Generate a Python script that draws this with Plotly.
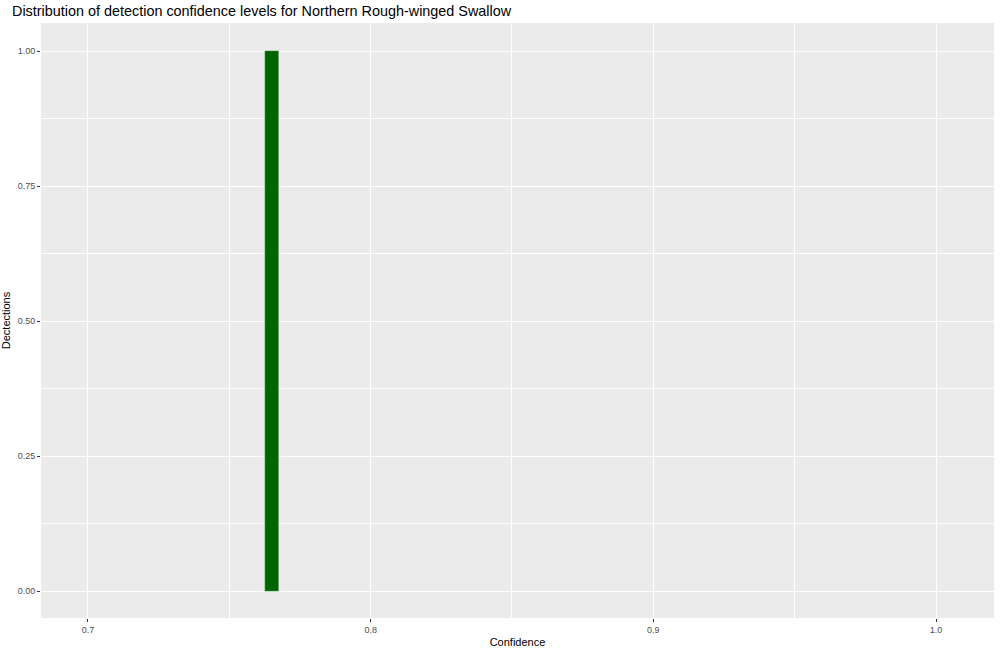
import plotly.graph_objects as go

confidence = [0.765]
detections = [1]
x_ticks = [0.7, 0.8, 0.9, 1.0]
x_tick_labels = ["0.7", "0.8", "0.9", "1.0"]
y_ticks = [0.0, 0.25, 0.5, 0.75, 1.0]
y_tick_labels = ["0.00", "0.25", "0.50", "0.75", "1.00"]

fig = go.Figure()
fig.add_trace(go.Bar(
    x=confidence, y=detections, width=0.0047,
    marker=dict(color="#006400", line=dict(color="#2f8a2f", width=0.6)),
))

font = "Liberation Sans, Arial, sans-serif"
fig.update_layout(
    width=1000, height=651,
    margin=dict(l=41, r=6, t=23, b=33),
    paper_bgcolor="white", plot_bgcolor="#EBEBEB",
    showlegend=False,
    font=dict(family=font, color="black"),
    title=dict(text="Distribution of detection confidence levels for Northern Rough-winged Swallow",
               x=12/1000, xanchor="left", y=1-11/651, yanchor="middle",
               font=dict(size=14.4, color="black", family=font)),
    xaxis=dict(range=[0.6834, 1.0205], tickvals=x_ticks, ticktext=x_tick_labels,
               showgrid=True, gridcolor="white", gridwidth=1.1, zeroline=False,
               ticks="outside", ticklen=3, tickcolor="#333333", tickwidth=1,
               tickfont=dict(size=9, color="#4D4D4D", family=font),
               minor=dict(dtick=0.05, tick0=0.65, showgrid=True, gridcolor="white", gridwidth=0.5, ticks=""),
               title=dict(text="Confidence", font=dict(size=11, color="black", family=font), standoff=4),
               showline=False),
    yaxis=dict(range=[-0.05, 1.052], tickvals=y_ticks, ticktext=y_tick_labels,
               showgrid=True, gridcolor="white", gridwidth=1.1, zeroline=False,
               ticks="outside", ticklen=3, tickcolor="#333333", tickwidth=1,
               tickfont=dict(size=9, color="#4D4D4D", family=font),
               minor=dict(dtick=0.125, tick0=0, showgrid=True, gridcolor="white", gridwidth=0.5, ticks=""),
               title=dict(text="Dectections", font=dict(size=11, color="black", family=font), standoff=4),
               showline=False),
)

fig.write_html("out.html", config={"displayModeBar": False},
               post_script="document.body.style.margin='0';document.body.style.overflow='hidden';")
